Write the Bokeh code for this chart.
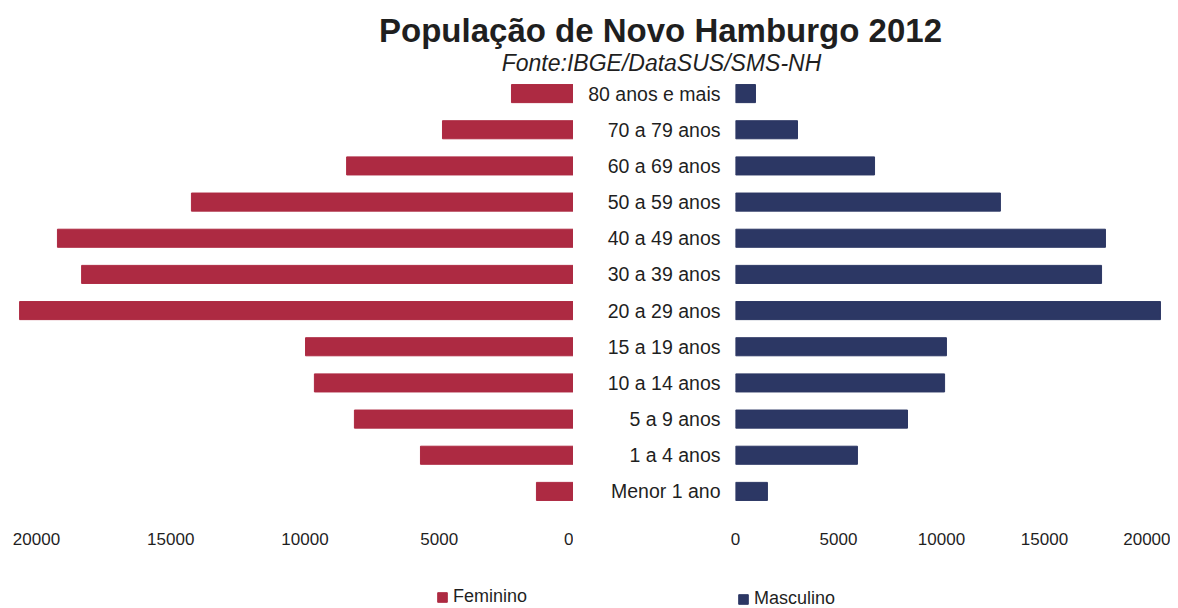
from bokeh.plotting import figure
from bokeh.models import Range1d, FactorRange, FixedTicker, Legend, LegendItem, Label
from bokeh.layouts import column, row
from bokeh.embed import file_html
from bokeh.resources import INLINE

categories = ["Menor 1 ano", "1 a 4 anos", "5 a 9 anos", "10 a 14 anos", "15 a 19 anos",
              "20 a 29 anos", "30 a 39 anos", "40 a 49 anos", "50 a 59 anos",
              "60 a 69 anos", "70 a 79 anos", "80 anos e mais"]
feminino = [1380, 5700, 8160, 9650, 9980, 20630, 18320, 19220, 14230, 8450, 4880, 2310]
masculino = [1550, 5920, 8350, 10150, 10240, 20630, 17770, 17960, 12860, 6750, 3010, 970]
ticks = [0, 5000, 10000, 15000, 20000]
title_text = "População de Novo Hamburgo 2012"
subtitle_text = "Fonte:IBGE/DataSUS/SMS-NH"
legend_labels = ["Feminino", "Masculino"]

FONT = "Liberation Sans"
FEM = "#AD2A42"
MASC = "#2C3764"
TXT = "#1f1f1f"

# Header with title and subtitle
hdr = figure(width=1170, height=75, x_range=Range1d(0, 1), y_range=Range1d(0, 1),
             x_axis_type=None, y_axis_type=None, toolbar_location=None,
             output_backend="svg", min_border=0, outline_line_color=None)
hdr.add_layout(Label(x=660, y=45, x_units="screen", y_units="screen", text=title_text,
                     text_align="center", text_baseline="middle", text_font=FONT,
                     text_font_size="33px", text_font_style="bold", text_color=TXT))
hdr.add_layout(Label(x=661, y=13, x_units="screen", y_units="screen", text=subtitle_text,
                     text_align="center", text_baseline="middle", text_font=FONT,
                     text_font_size="23px", text_font_style="italic", text_color=TXT))


def style_xaxis(p):
    ax = p.xaxis[0]
    ax.ticker = FixedTicker(ticks=ticks)
    ax.axis_line_color = None
    ax.major_tick_line_color = None
    ax.minor_tick_line_color = None
    ax.major_tick_out = 0
    ax.major_tick_in = 0
    ax.major_label_standoff = 23
    ax.major_label_text_font = FONT
    ax.major_label_text_font_size = "17px"
    ax.major_label_text_color = TXT
    p.grid.visible = False


# Left (female) figure, reversed axis
left = figure(width=573, height=480, y_range=FactorRange(factors=categories),
              x_range=Range1d(21341, 0), toolbar_location=None, output_backend="svg",
              y_axis_location=None, min_border_left=0, min_border_right=0,
              min_border_top=0, min_border_bottom=46, outline_line_color=None)
left.hbar(y=categories, left=0, right=feminino, height=0.5,
          fill_color=FEM, line_color=FEM)
style_xaxis(left)

# Right (male) figure with category axis
right = figure(width=597, height=480, y_range=FactorRange(factors=categories),
               x_range=Range1d(0, 21117), toolbar_location=None, output_backend="svg",
               min_border_left=162, min_border_right=0,
               min_border_top=0, min_border_bottom=46, outline_line_color=None)
right.hbar(y=categories, left=0, right=masculino, height=0.5,
           fill_color=MASC, line_color=MASC)
style_xaxis(right)
ya = right.yaxis[0]
ya.axis_line_color = None
ya.major_tick_line_color = None
ya.minor_tick_line_color = None
ya.major_tick_out = 0
ya.major_tick_in = 0
ya.major_label_standoff = 15
ya.major_label_text_font = FONT
ya.major_label_text_font_size = "19.5px"
ya.major_label_text_color = TXT

# Footer holding the legend (its series renderers lie outside the footer's view,
# so only the legend swatches appear)
foot = figure(width=1170, height=52, x_range=Range1d(-2, -1),
              y_range=FactorRange(factors=categories),
              x_axis_type=None, y_axis_type=None, toolbar_location=None,
              output_backend="svg", min_border=0, outline_line_color=None)
lf = foot.hbar(y=categories, left=0, right=feminino, height=0.5,
               fill_color=FEM, line_color=FEM)
lm = foot.hbar(y=categories, left=0, right=masculino, height=0.5,
               fill_color=MASC, line_color=MASC)


def make_legend(label, rend, loc):
    return Legend(items=[LegendItem(label=label, renderers=[rend])], location=loc,
                  orientation="horizontal", border_line_color=None,
                  background_fill_alpha=0, padding=0, margin=0,
                  glyph_width=12, glyph_height=12, label_standoff=5,
                  label_text_font=FONT, label_text_font_size="18px",
                  label_text_color=TXT)


foot.add_layout(make_legend(legend_labels[0], lf, (436, 0)))
foot.add_layout(make_legend(legend_labels[1], lm, (737, -2)))

layout = column(hdr, row(left, right), foot)
open("out.html", "w").write(file_html(layout, INLINE))
